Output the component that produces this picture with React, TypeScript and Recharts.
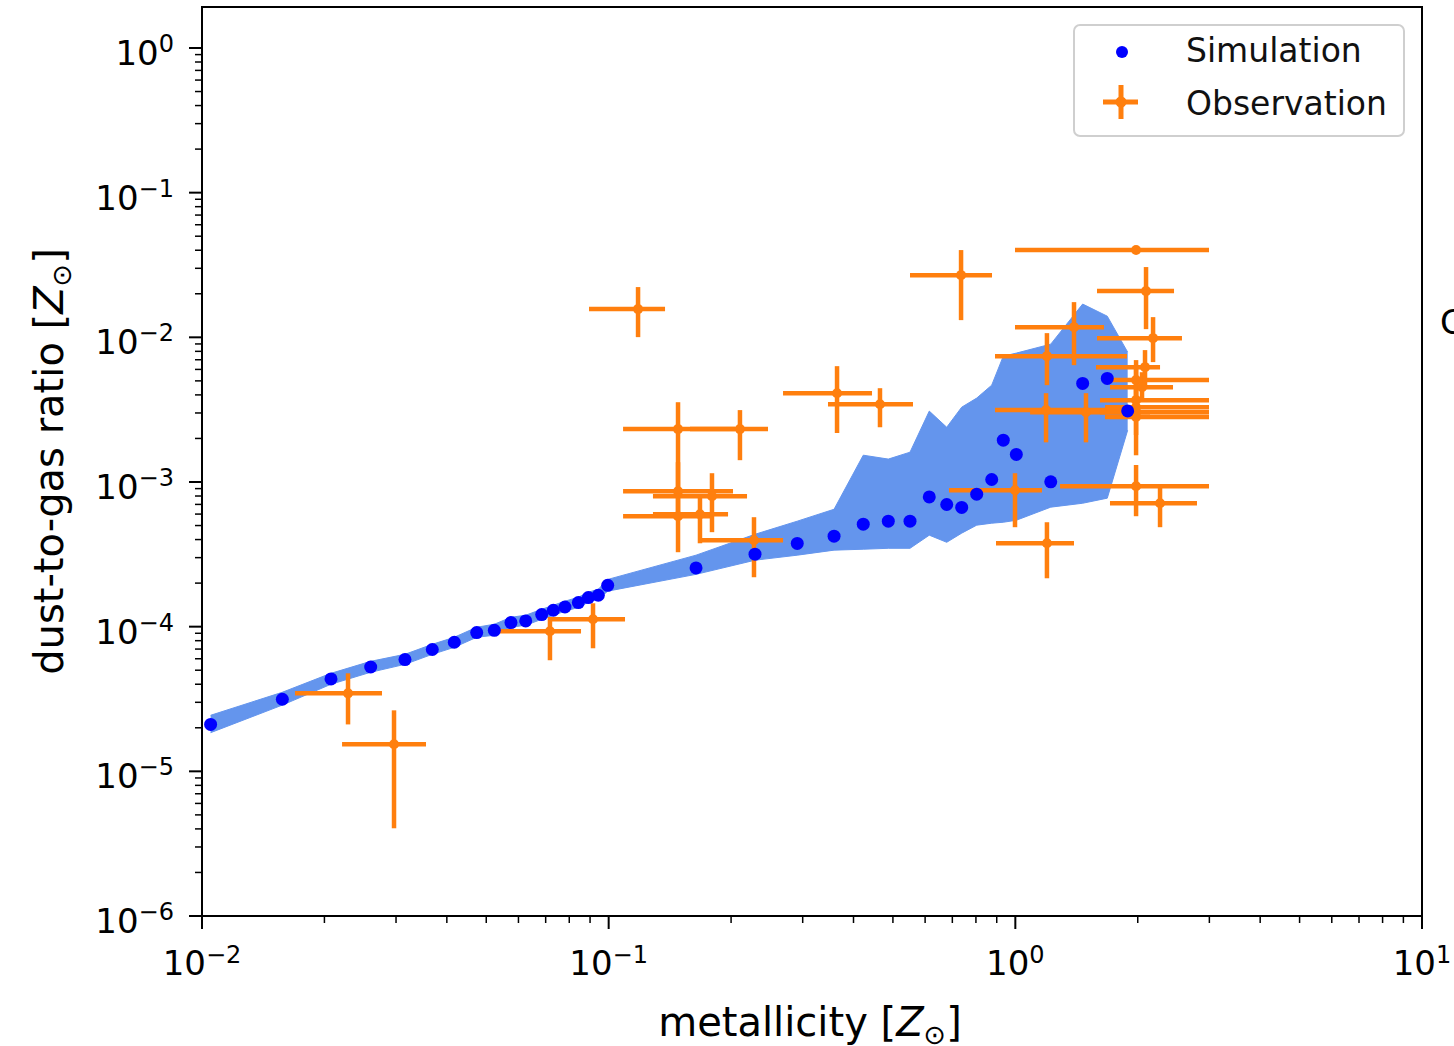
import React from 'react';
import {
  ComposedChart,
  Area,
  Scatter,
  XAxis,
  YAxis,
  ErrorBar,
  ReferenceArea,
  Label,
  Legend,
} from 'recharts';

const FONT = '"DejaVu Sans", "Noto Sans", sans-serif';
const ORANGE = '#ff7f0e';
const BLUE = '#0000ff';
const BAND = '#6495ed';

// ---------- Simulation (points + shaded range) ----------
const simX = [0.0105, 0.01576, 0.02076, 0.02599, 0.03156, 0.03684, 0.04173, 0.04737, 0.05234, 0.05751, 0.06252, 0.06844, 0.0731, 0.07808, 0.08423, 0.08912, 0.09431, 0.09945, 0.164, 0.229, 0.2909, 0.3583, 0.4227, 0.4871, 0.5508, 0.6143, 0.6781, 0.7381, 0.8035, 0.8748, 0.9341, 1.0056, 1.222, 1.464, 1.683, 1.889];
const simY = [2.11e-5, 3.15e-5, 4.35e-5, 5.26e-5, 5.92e-5, 6.95e-5, 7.8e-5, 9.1e-5, 9.44e-5, 1.067e-4, 1.095e-4, 1.213e-4, 1.298e-4, 1.368e-4, 1.468e-4, 1.589e-4, 1.648e-4, 1.932e-4, 2.547e-4, 3.17e-4, 3.76e-4, 4.22e-4, 5.11e-4, 5.36e-4, 5.36e-4, 7.89e-4, 6.99e-4, 6.67e-4, 8.24e-4, 1.04e-3, 1.946e-3, 1.55e-3, 1.002e-3, 4.8e-3, 5.2e-3, 3.1e-3];
const bandLo = [1.85e-5, 2.87e-5, 4.0e-5, 4.84e-5, 5.49e-5, 6.44e-5, 7.2e-5, 8.45e-5, 8.72e-5, 9.91e-5, 1.023e-4, 1.124e-4, 1.2e-4, 1.278e-4, 1.36e-4, 1.475e-4, 1.547e-4, 1.76e-4, 2.3e-4, 2.88e-4, 3.12e-4, 3.38e-4, 3.43e-4, 3.48e-4, 3.48e-4, 4.29e-4, 3.83e-4, 4.43e-4, 5.03e-4, 5.19e-4, 5.27e-4, 5.44e-4, 6.7e-4, 7.13e-4, 7.73e-4, 2.28e-3];
const bandHi = [2.44e-5, 3.52e-5, 4.76e-5, 5.76e-5, 6.44e-5, 7.55e-5, 8.45e-5, 9.91e-5, 1.039e-4, 1.161e-4, 1.2e-4, 1.318e-4, 1.406e-4, 1.5e-4, 1.597e-4, 1.73e-4, 1.815e-4, 2.12e-4, 3.12e-4, 4.35e-4, 5.36e-4, 6.48e-4, 1.532e-3, 1.44e-3, 1.607e-3, 3.09e-3, 2.39e-3, 3.29e-3, 3.8e-3, 4.67e-3, 7.41e-3, 7.78e-3, 8.97e-3, 1.698e-2, 1.4e-2, 7.9e-3];

// ---------- Observation (points with x / y error ranges) ----------
const obsX = [0.02286, 0.02966, 0.07172, 0.09152, 0.1181, 0.1481, 0.2103, 0.1481, 0.1795, 0.1481, 0.1677, 0.2277, 0.3644, 0.4647, 0.7354, 1.981, 2.096, 1.394, 2.181, 1.196, 1.19, 1.492, 1.981, 1.981, 2.049, 1.981, 1.981, 1.981, 0.9981, 1.981, 2.269, 1.196, 2.084];
const obsXLo = [0.01693, 0.0221, 0.05405, 0.07092, 0.08947, 0.1085, 0.1585, 0.1085, 0.1285, 0.1085, 0.1285, 0.1677, 0.2684, 0.3462, 0.5508, 0.9981, 1.588, 0.9981, 1.588, 0.8913, 0.8913, 1.087, 1.615, 1.662, 1.709, 1.615, 1.662, 1.662, 0.6869, 1.288, 1.709, 0.8963, 1.579];
const obsXHi = [0.02771, 0.03555, 0.08551, 0.1097, 0.1376, 0.2045, 0.2465, 0.2022, 0.2189, 0.1775, 0.1966, 0.2684, 0.4442, 0.5602, 0.8763, 2.994, 2.456, 1.652, 2.569, 1.882, 1.889, 2.144, 2.994, 2.994, 2.442, 2.994, 2.994, 2.994, 1.163, 2.994, 2.797, 1.394, 2.269];
const obsY = [3.46e-5, 1.537e-5, 9.29e-5, 1.125e-4, 1.567e-2, 2.32e-3, 2.32e-3, 8.64e-4, 7.98e-4, 5.8e-4, 5.99e-4, 3.96e-4, 4.11e-3, 3.45e-3, 2.69e-2, 4.01e-2, 2.087e-2, 1.176e-2, 9.87e-3, 7.41e-3, 3.14e-3, 3.04e-3, 3.04e-3, 5.06e-3, 4.52e-3, 3.68e-3, 3.29e-3, 2.81e-3, 8.78e-4, 9.35e-4, 7.13e-4, 3.77e-4, 6.22e-3];
const obsYLo = [2.11e-5, 4.04e-6, 5.86e-5, 7.09e-5, 1.003e-2, 8.78e-4, 1.415e-3, 5.44e-4, 4.5e-4, 3.27e-4, 3.77e-4, 2.196e-4, 2.18e-3, 2.39e-3, 1.315e-2, 4.01e-2, 1.139e-2, 6.42e-3, 6.74e-3, 4.67e-3, 1.88e-3, 1.88e-3, 1.53e-3, 3.98e-3, 3.68e-3, 2.9e-3, 2.68e-3, 2.11e-3, 4.87e-4, 5.8e-4, 4.87e-4, 2.16e-4, 4.67e-3];
const obsYHi = [4.76e-5, 2.64e-5, 1.161e-4, 1.451e-4, 2.225e-2, 3.56e-3, 3.14e-3, 1.37e-3, 1.15e-3, 8.1e-4, 7.85e-4, 5.71e-4, 6.32e-3, 4.45e-3, 4.01e-2, 4.01e-2, 3.06e-2, 1.751e-2, 1.379e-2, 1.069e-2, 4.11e-3, 4.11e-3, 6.96e-3, 6.42e-3, 5.74e-3, 4.67e-3, 3.98e-3, 3.68e-3, 1.15e-3, 1.31e-3, 9.2e-4, 5.27e-4, 8.16e-3];

// ---------- Axes ----------
const xDomain = [0.01, 10];
const yDomain = [1e-6, 1.92];
const xTicks = [0.01, 0.02, 0.03, 0.04, 0.05, 0.06, 0.07, 0.08, 0.09, 0.1, 0.2, 0.3, 0.4, 0.5, 0.6, 0.7, 0.8, 0.9, 1, 2, 3, 4, 5, 6, 7, 8, 9, 10];
const xMajor = [0.01, 0.1, 1, 10];
const xMajorExp = ['\u22122', '\u22121', '0', '1'];
const yTicks = [
  1e-6, 2e-6, 3e-6, 4e-6, 5e-6, 6e-6, 7e-6, 8e-6, 9e-6,
  1e-5, 2e-5, 3e-5, 4e-5, 5e-5, 6e-5, 7e-5, 8e-5, 9e-5,
  1e-4, 2e-4, 3e-4, 4e-4, 5e-4, 6e-4, 7e-4, 8e-4, 9e-4,
  1e-3, 2e-3, 3e-3, 4e-3, 5e-3, 6e-3, 7e-3, 8e-3, 9e-3,
  1e-2, 2e-2, 3e-2, 4e-2, 5e-2, 6e-2, 7e-2, 8e-2, 9e-2,
  0.1, 0.2, 0.3, 0.4, 0.5, 0.6, 0.7, 0.8, 0.9, 1,
];
const yMajor = [1e-6, 1e-5, 1e-4, 1e-3, 1e-2, 1e-1, 1];
const yMajorExp = ['\u22126', '\u22125', '\u22124', '\u22123', '\u22122', '\u22121', '0'];

const simData = simX.map((x, i) => ({ x, y: simY[i], band: [bandLo[i], bandHi[i]] }));
const obsData = obsX.map((x, i) => ({
  x,
  y: obsY[i],
  ex: [x - obsXLo[i], obsXHi[i] - x],
  ey: [obsY[i] - obsYLo[i], obsYHi[i] - obsY[i]],
}));

const findMajor = (arr: number[], v: number) => arr.findIndex((m) => Math.abs(m - v) / m < 1e-6);

const YTick = (props: any) => {
  const { x, y, payload } = props;
  const idx = findMajor(yMajor, payload.value);
  const major = idx >= 0;
  return (
    <g>
      <line x1={x} x2={x - (major ? 13 : 7)} y1={y} y2={y} stroke="#000" strokeWidth={major ? 2 : 1.5} />
      {major && (
        <text x={x - 28} y={y + 17} textAnchor="end" fontFamily={FONT} fontSize={34} fill="#000">
          <tspan>10</tspan>
          <tspan dy={-13} fontSize={24}>{yMajorExp[idx]}</tspan>
        </text>
      )}
    </g>
  );
};

const XTick = (props: any) => {
  const { x, y, payload } = props;
  const idx = findMajor(xMajor, payload.value);
  const major = idx >= 0;
  return (
    <g>
      <line x1={x} x2={x} y1={y} y2={y + (major ? 13 : 7)} stroke="#000" strokeWidth={major ? 2 : 1.5} />
      {major && (
        <text x={x} y={y + 59} textAnchor="middle" fontFamily={FONT} fontSize={34} fill="#000">
          <tspan>10</tspan>
          <tspan dy={-12} fontSize={24}>{xMajorExp[idx]}</tspan>
        </text>
      )}
    </g>
  );
};

const XLabel = (props: any) => {
  const vb = props.viewBox || { x: 202, y: 916, width: 1220, height: 130 };
  const cx = vb.x + vb.width / 2 - 2;
  const by = vb.y + 120;
  return (
    <text x={cx} y={by} textAnchor="middle" fontFamily={FONT} fontSize={40} fill="#000">
      metallicity [<tspan fontStyle="italic">Z</tspan>
      <tspan fontSize={27} dy={8}>{'\u2299'}</tspan>
      <tspan dy={-8}>]</tspan>
    </text>
  );
};

const YLabel = (props: any) => {
  const vb = props.viewBox || { x: 0, y: 7, width: 202, height: 909 };
  const bx = vb.x + 63;
  const cy = vb.y + vb.height / 2;
  return (
    <text
      x={bx}
      y={cy}
      transform={`rotate(-90 ${bx} ${cy})`}
      textAnchor="middle"
      fontFamily={FONT}
      fontSize={40}
      fill="#000"
    >
      dust-to-gas ratio [<tspan fontStyle="italic">Z</tspan>
      <tspan fontSize={27} dy={8}>{'\u2299'}</tspan>
      <tspan dy={-8}>]</tspan>
    </text>
  );
};

const LegendBox = () => (
  <svg width={332} height={113} style={{ display: 'block', overflow: 'visible' }}>
    <rect x={1} y={1} width={330} height={111} rx={6} ry={6} fill="#ffffff" fillOpacity={0.8} stroke="#cfcfcf" strokeWidth={2} />
    <circle cx={49} cy={28} r={6} fill={BLUE} />
    <line x1={30} x2={65} y1={78} y2={78} stroke={ORANGE} strokeWidth={5} />
    <line x1={48} x2={48} y1={61} y2={95} stroke={ORANGE} strokeWidth={5} />
    <circle cx={48} cy={78} r={5.5} fill={ORANGE} />
    <text x={113} y={38} fontFamily={FONT} fontSize={33} fill="#111">Simulation</text>
    <text x={113} y={91} fontFamily={FONT} fontSize={33} fill="#111">Observation</text>
  </svg>
);

const SimDot = (props: any) => <circle cx={props.cx} cy={props.cy} r={6.5} fill={BLUE} />;
const ObsDot = (props: any) => <circle cx={props.cx} cy={props.cy} r={5} fill={ORANGE} />;

export default function App() {
  return (
    <div style={{ position: 'absolute', left: 0, top: 0, width: 1454, height: 1046, background: '#fff' }}>
      <ComposedChart
        width={1454}
        height={1046}
        data={simData}
        margin={{ top: 7, right: 32, bottom: 0, left: 0 }}
      >
        <XAxis
          type="number"
          dataKey="x"
          scale="log"
          domain={xDomain}
          allowDataOverflow
          ticks={xTicks}
          interval={0}
          tick={<XTick />}
          tickLine={false}
          tickSize={0}
          tickMargin={0}
          axisLine={{ stroke: '#000', strokeWidth: 2 }}
          height={130}
        >
          <Label content={XLabel} />
        </XAxis>
        <YAxis
          type="number"
          dataKey="y"
          scale="log"
          domain={yDomain}
          allowDataOverflow
          ticks={yTicks}
          interval={0}
          tick={<YTick />}
          tickLine={false}
          tickSize={0}
          tickMargin={0}
          axisLine={{ stroke: '#000', strokeWidth: 2 }}
          width={202}
        >
          <Label content={YLabel} />
        </YAxis>
        <ReferenceArea
          x1={xDomain[0]}
          x2={xDomain[1]}
          y1={yDomain[0]}
          y2={yDomain[1]}
          fill="none"
          fillOpacity={0}
          stroke="#000"
          strokeWidth={2}
          ifOverflow="visible"
        />
        <Area
          type="linear"
          dataKey="band"
          data={simData}
          fill={BAND}
          fillOpacity={1}
          stroke={BAND}
          strokeWidth={1}
          dot={false}
          activeDot={false}
          isAnimationActive={false}
        />
        <Scatter data={obsData} shape={<ObsDot />} isAnimationActive={false}>
          <ErrorBar dataKey="ex" direction="x" width={0} stroke={ORANGE} strokeWidth={4.5} />
          <ErrorBar dataKey="ey" direction="y" width={0} stroke={ORANGE} strokeWidth={4.5} />
        </Scatter>
        <Scatter data={simData} shape={<SimDot />} isAnimationActive={false} />
        <Legend
          layout="horizontal"
          verticalAlign="middle"
          align="center"
          content={<LegendBox />}
          wrapperStyle={{ left: 1073, top: 24, width: 332, height: 113 }}
        />
      </ComposedChart>
      <svg
        width={1454}
        height={1046}
        style={{ position: 'absolute', left: 0, top: 0, pointerEvents: 'none' }}
      >
        <text x={1440} y={334} fontFamily={FONT} fontSize={34} fill="#000">C</text>
      </svg>
    </div>
  );
}
